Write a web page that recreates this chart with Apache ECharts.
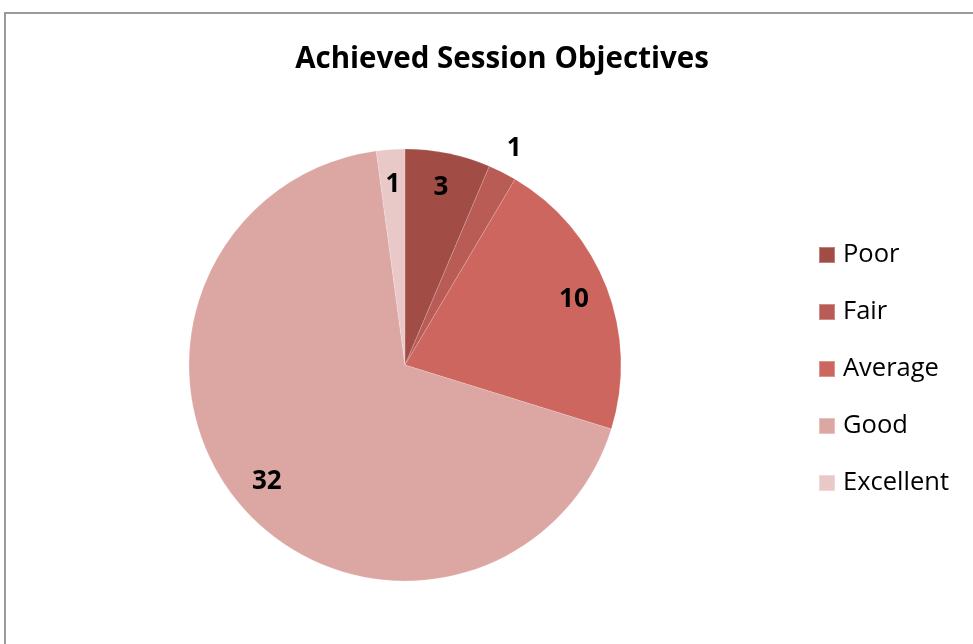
<!DOCTYPE html>
<html><head><meta charset="utf-8">
<script src="https://cdn.jsdelivr.net/npm/echarts@6/dist/echarts.min.js"></script>
<style>html,body{margin:0;padding:0;background:#fff}#c{width:973px;height:644px}</style>
</head><body><div id="c"></div>
<script>
const categories = ['Poor', 'Fair', 'Average', 'Good', 'Excellent'];
const values = [3, 1, 10, 32, 1];
const colors = ['#a14d46', '#b95c56', '#cd665f', '#dca7a3', '#e9c9c7'];
const font = '"Open Sans", "Liberation Sans", sans-serif';

const chart = echarts.init(document.getElementById('c'));
const data = categories.map((n, i) => ({ name: n, value: values[i], itemStyle: { color: colors[i] } }));
const center = [405, 365];
const R = 216;
const labelStyle = { color: '#000', fontWeight: 'bold', fontSize: 26, fontFamily: font, padding: [8, 0, 0, 0] };
chart.setOption({
  animation: false,
  title: { text: 'Achieved Session Objectives', left: 497, top: 40, textAlign: 'center',
    textStyle: { fontFamily: font, fontWeight: 'bold', fontSize: 29.5, color: '#000' } },
  legend: { orient: 'vertical', left: 813, top: 237, itemWidth: 16, itemHeight: 16, itemGap: 31,
    icon: 'rect', data: categories,
    textStyle: { fontFamily: font, fontSize: 25.5, color: '#000', padding: [0, 0, 0, 3] } },
  graphic: [{ type: 'rect', shape: { x: 5, y: 13, width: 1000, height: 700 },
    style: { fill: 'none', stroke: '#9a9a9a', lineWidth: 2 }, silent: true }],
  series: [
    { type: 'pie', center, radius: [0, R], startAngle: 90, clockwise: true,
      label: { show: false }, labelLine: { show: false }, data,
      itemStyle: { borderColor: 'rgba(255,255,255,0.3)', borderWidth: 0.5 } },
    { type: 'pie', center, radius: [140, R], startAngle: 90, clockwise: true, silent: true,
      legendHoverLink: false,
      label: { show: true, position: 'inside', formatter: '{c}', ...labelStyle },
      labelLine: { show: false },
      data: categories.map((n, i) => ({ name: n, value: values[i],
        itemStyle: { color: 'rgba(0,0,0,0)' },
        label: { show: n !== 'Fair' } })) },
    { type: 'pie', center, radius: [R, 262], startAngle: 90, clockwise: true, silent: true,
      legendHoverLink: false,
      label: { show: true, position: 'inside', formatter: '{c}', ...labelStyle },
      labelLine: { show: false },
      data: categories.map((n, i) => ({ name: n, value: values[i],
        itemStyle: { color: 'rgba(0,0,0,0)' },
        label: { show: n === 'Fair' } })) }
  ]
});
</script></body></html>
